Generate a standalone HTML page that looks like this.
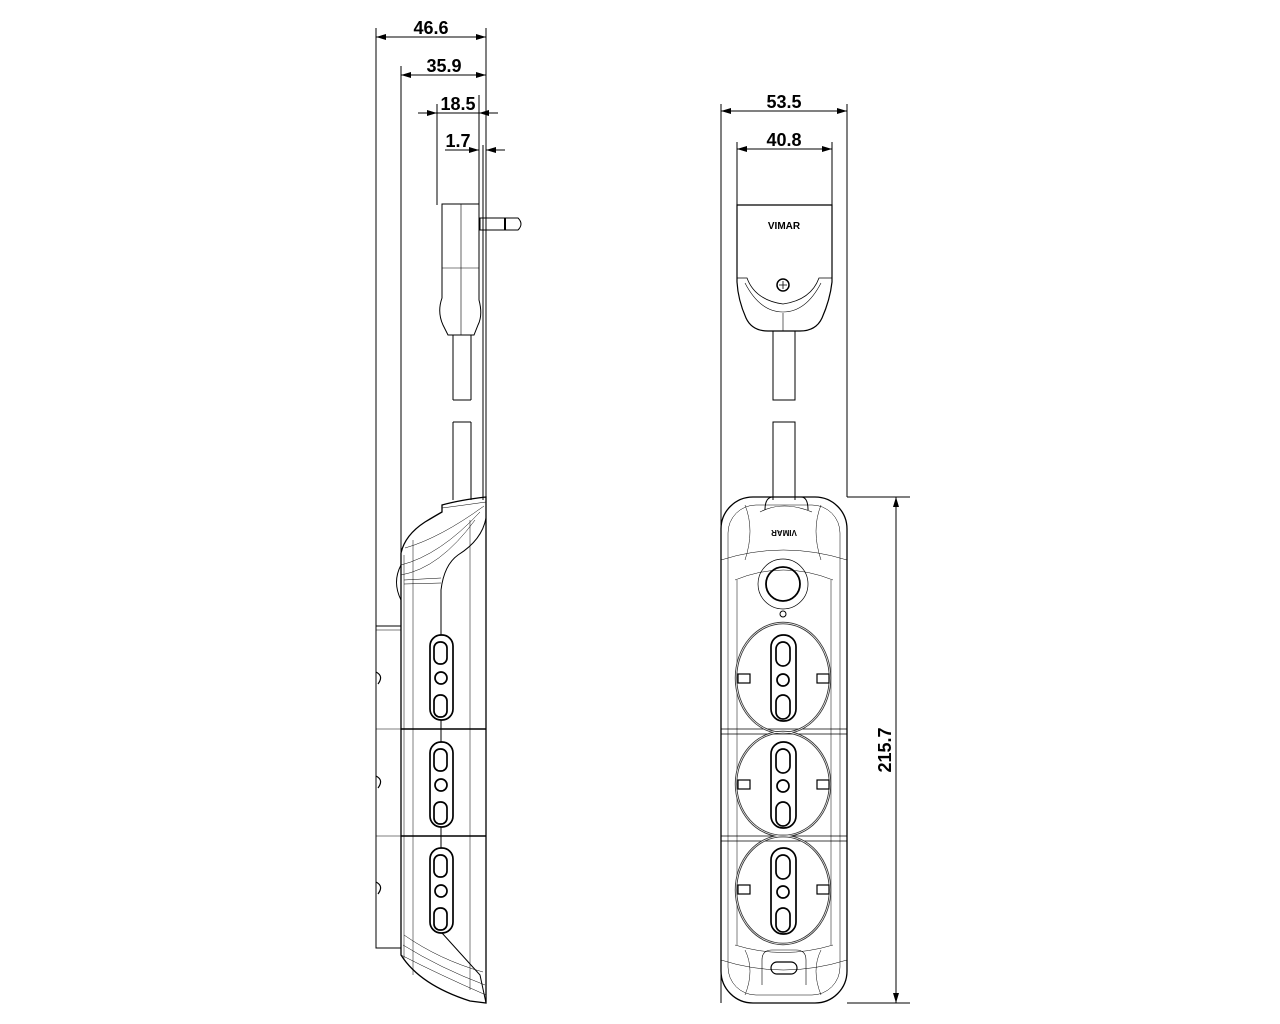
<!DOCTYPE html>
<html><head><meta charset="utf-8"><style>
html,body{margin:0;padding:0;background:#fff;}
svg{display:block}
text{font-family:"Liberation Sans",sans-serif;}
</style></head><body>
<svg width="1280" height="1024" viewBox="0 0 1280 1024" xmlns="http://www.w3.org/2000/svg">
<defs>
<marker id="a" viewBox="0 0 10 6" refX="10" refY="3" markerWidth="10" markerHeight="6" orient="auto-start-reverse" markerUnits="userSpaceOnUse"><path d="M0,0 L10,3 L0,6 z" fill="#000"/></marker>
</defs>
<g fill="none" stroke="#000" stroke-width="1">
<line x1="376" y1="28" x2="376" y2="626"/>
<line x1="401" y1="66" x2="401" y2="552"/>
<line x1="437" y1="104" x2="437" y2="205"/>
<line x1="479" y1="95" x2="479" y2="205"/>
<line x1="483" y1="145" x2="483" y2="500"/>
<line x1="486" y1="28" x2="486" y2="500"/>
<line x1="376" y1="37" x2="486" y2="37" marker-start="url(#a)" marker-end="url(#a)"/>
<line x1="401" y1="75" x2="486" y2="75" marker-start="url(#a)" marker-end="url(#a)"/>
<line x1="418" y1="113" x2="437" y2="113" marker-end="url(#a)"/>
<line x1="437" y1="113" x2="479" y2="113"/>
<line x1="498" y1="113" x2="479" y2="113" marker-end="url(#a)"/>
<line x1="445" y1="150" x2="479" y2="150" marker-end="url(#a)"/>
<line x1="505" y1="150" x2="486" y2="150" marker-end="url(#a)"/>
<path d="M442,204 H479 V300 Q483,315 478,325 L474,335 H448 L443,325 Q437,312 442,298 Z"/>
<line x1="461" y1="204" x2="461" y2="335" stroke-width="0.6"/>
<line x1="442" y1="268" x2="479" y2="268" stroke-width="0.6"/>
<path d="M480,218 H518 Q524,224 518,230 H480 Z"/>
<line x1="505" y1="218" x2="505" y2="230" stroke-width="2"/>
<path d="M453,335 V400 M471,335 V400 M453,400 H471"/>
<path d="M453,422 V500 M471,422 V500 M453,422 H471"/>
<!-- body side -->
<path d="M442,512 V505 Q460,500 486,497 V1003 L470,1001 Q420,985 401,955 V553 Q405,535 425,522 Q435,516 442,512 Z" stroke-width="1.3"/>
<path d="M486,518 Q482,540 458,555 Q444,565 441,590 V635"/>
<path d="M401,575 Q440,568 475,520" stroke-width="0.5"/>
<path d="M401,565 Q440,555 480,512" stroke-width="0.5"/>
<path d="M405,548 Q440,538 484,506" stroke-width="0.5"/>
<path d="M442,508 Q465,505 486,502" stroke-width="0.5"/>
<line x1="404" y1="580" x2="441" y2="578" stroke-width="0.6"/>
<line x1="404" y1="584" x2="441" y2="583" stroke-width="0.6"/>
<path d="M401,565 Q392,582 401,600"/>
<line x1="404" y1="555" x2="404" y2="960" stroke-width="0.5"/>
<line x1="413" y1="540" x2="413" y2="975" stroke-width="0.5"/>
<line x1="470" y1="520" x2="470" y2="990" stroke-width="0.5"/>
<line x1="401" y1="729" x2="486" y2="729" stroke-width="1.5"/>
<line x1="401" y1="836" x2="486" y2="836" stroke-width="1.5"/>
<line x1="441" y1="720" x2="441" y2="742"/>
<line x1="441" y1="827" x2="441" y2="848"/>
<path d="M442,933 L480,975 L486,1003"/>
<path d="M401,955 Q440,975 486,995" stroke-width="0.5"/>
<path d="M404,935 Q440,960 483,972" stroke-width="0.5"/>
<path d="M403,945 Q440,968 485,985" stroke-width="0.5"/>
<path d="M401,626 H376 V948 H401"/>
<line x1="376" y1="630" x2="401" y2="630" stroke-width="0.6"/>
<line x1="376" y1="729" x2="401" y2="729" stroke-width="0.6"/>
<line x1="376" y1="836" x2="401" y2="836" stroke-width="0.6"/>
<path d="M376,672 Q384,676 378,684 M376,776 Q384,780 378,788 M376,882 Q384,886 378,894" stroke-width="1.2"/>
<g stroke-width="1.7">
<rect x="430" y="635" width="23" height="85" rx="11"/>
<rect x="434" y="642" width="13" height="22" rx="6"/>
<circle cx="441" cy="678" r="6"/>
<rect x="434" y="695" width="13" height="22" rx="6"/>
<rect x="430" y="742" width="23" height="85" rx="11"/>
<rect x="434" y="749" width="13" height="22" rx="6"/>
<circle cx="441" cy="785" r="6"/>
<rect x="434" y="802" width="13" height="22" rx="6"/>
<rect x="430" y="848" width="23" height="85" rx="11"/>
<rect x="434" y="855" width="13" height="22" rx="6"/>
<circle cx="441" cy="891" r="6"/>
<rect x="434" y="908" width="13" height="22" rx="6"/>
</g>

<line x1="721" y1="104" x2="721" y2="1003"/>
<line x1="847" y1="104" x2="847" y2="497"/>
<line x1="737" y1="142" x2="737" y2="205"/>
<line x1="832" y1="142" x2="832" y2="205"/>
<line x1="721" y1="111" x2="847" y2="111" marker-start="url(#a)" marker-end="url(#a)"/>
<line x1="737" y1="149" x2="832" y2="149" marker-start="url(#a)" marker-end="url(#a)"/>
<path d="M737,205 H832 V282 Q830,300 822,318 Q816,331 800,331 H768 Q752,331 746,318 Q738,300 737,282 Z" stroke-width="1.2"/>
<path d="M737,278 H747 Q755,300 783,304 Q811,300 819,278 H832" stroke-width="0.8"/>
<path d="M745,283 Q760,312 783,312 Q806,312 821,283" stroke-width="0.6"/>
<line x1="783" y1="313" x2="783" y2="331" stroke-width="0.6"/>
<circle cx="783" cy="285" r="6" stroke-width="1.5"/>
<path d="M779,285 H787 M783,281 V289" stroke-width="0.8"/>
<path d="M773,331 V400 H795 V331 M773,500 V422 H795 V500"/>
<rect x="721" y="497" width="126" height="506" rx="32" stroke-width="1.3"/>
<rect x="728" y="505" width="112" height="490" rx="28" stroke-width="0.5"/>
<path d="M765,510 Q765,497 773,497 M801,497 Q808,497 808,510" />
<path d="M760,512 Q783,500 812,512" stroke-width="0.6"/>
<path d="M721,560 Q783,540 847,560" stroke-width="0.5"/>
<path d="M735,580 Q783,560 833,580" stroke-width="0.5"/>
<path d="M721,960 Q783,980 847,960" stroke-width="0.5"/>
<path d="M735,945 Q783,960 833,945" stroke-width="0.5"/>
<path d="M745,505 Q755,530 745,560 M821,505 Q811,530 821,560 M745,995 Q755,970 745,950 M821,995 Q811,970 821,950" stroke-width="0.5"/>
<line x1="737" y1="580" x2="737" y2="945" stroke-width="0.5"/>
<line x1="831" y1="580" x2="831" y2="945" stroke-width="0.5"/>
<line x1="721" y1="729" x2="847" y2="729" stroke-width="0.8"/>
<line x1="721" y1="734" x2="847" y2="734" stroke-width="0.8"/>
<line x1="721" y1="836" x2="847" y2="836" stroke-width="0.8"/>
<line x1="721" y1="841" x2="847" y2="841" stroke-width="0.8"/>
<circle cx="783" cy="584" r="17" stroke-width="1.8"/>
<circle cx="783" cy="584" r="25" stroke-width="0.7"/>
<circle cx="783" cy="614" r="3"/>
<g stroke="#333" stroke-width="2.4">
<ellipse cx="783" cy="678" rx="47" ry="55"/>
<ellipse cx="783" cy="784" rx="47" ry="52"/>
<ellipse cx="783" cy="890" rx="47" ry="54"/>
</g>
<g stroke="#fff" stroke-width="0.7">
<ellipse cx="783" cy="678" rx="47" ry="55"/>
<ellipse cx="783" cy="784" rx="47" ry="52"/>
<ellipse cx="783" cy="890" rx="47" ry="54"/>
</g>
<g stroke-width="1.7">
<rect x="771" y="635" width="25" height="86" rx="12"/>
<rect x="776" y="642" width="14" height="24" rx="7"/>
<circle cx="783" cy="680" r="6"/>
<rect x="776" y="695" width="14" height="24" rx="7"/>
<rect x="771" y="742" width="25" height="86" rx="12"/>
<rect x="776" y="749" width="14" height="24" rx="7"/>
<circle cx="783" cy="786" r="6"/>
<rect x="776" y="802" width="14" height="24" rx="7"/>
<rect x="771" y="848" width="25" height="86" rx="12"/>
<rect x="776" y="855" width="14" height="24" rx="7"/>
<circle cx="783" cy="892" r="6"/>
<rect x="776" y="908" width="14" height="24" rx="7"/>
</g>
<g stroke-width="1.2">
<rect x="738" y="674" width="12" height="9"/><rect x="817" y="674" width="12" height="9"/>
<rect x="738" y="780" width="12" height="9"/><rect x="817" y="780" width="12" height="9"/>
<rect x="738" y="885" width="12" height="9"/><rect x="817" y="885" width="12" height="9"/>
</g>
<rect x="771" y="962" width="26" height="12" rx="6" stroke-width="1.2"/>
<path d="M762,985 V960 Q762,950 772,950 H796 Q806,950 806,960 V985" stroke-width="0.6"/>
<line x1="847" y1="497" x2="910" y2="497"/>
<line x1="847" y1="1003" x2="910" y2="1003"/>
<line x1="896" y1="497" x2="896" y2="1003" marker-start="url(#a)" marker-end="url(#a)"/>
</g>
<g fill="#000" font-size="18" font-weight="bold">
<text x="431" y="34" text-anchor="middle">46.6</text>
<text x="444" y="72" text-anchor="middle">35.9</text>
<text x="458" y="110" text-anchor="middle">18.5</text>
<text x="458" y="147" text-anchor="middle">1.7</text>
<text x="784" y="108" text-anchor="middle">53.5</text>
<text x="784" y="146" text-anchor="middle">40.8</text>
<text transform="translate(891,750) rotate(-90)" text-anchor="middle">215.7</text>
<text x="784" y="229" text-anchor="middle" font-size="10">VIMAR</text>
<text transform="translate(784,530) rotate(180)" text-anchor="middle" font-size="8">VIMAR</text>
</g>
</svg>
</body></html>
